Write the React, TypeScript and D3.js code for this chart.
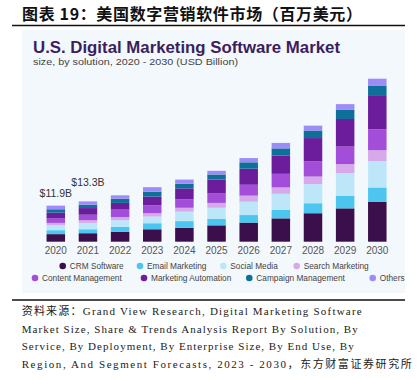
import React from "react";
import * as d3 from "d3";

const years = ["2020","2021","2022","2023","2024","2025","2026","2027","2028","2029","2030"];
const seriesNames = ["CRM Software","Email Marketing","Social Media","Search Marketing","Content Management","Marketing Automation","Campaign Management","Others"];
const crm = [2.5, 2.8, 3.3, 4.1, 4.6, 5.4, 6.3, 7.7, 9.4, 11.0, 13.2];
const email = [1.3, 1.3, 1.6, 2.0, 2.2, 2.1, 2.5, 2.8, 3.3, 4.1, 4.7];
const social = [1.6, 2.1, 2.2, 2.2, 3.1, 3.7, 4.4, 5.3, 6.3, 7.5, 8.7];
const search = [0.8, 0.9, 1.0, 1.1, 1.3, 1.6, 2.0, 2.1, 2.5, 3.0, 3.6];
const content = [1.6, 1.8, 2.5, 2.6, 2.8, 3.1, 3.6, 4.5, 5.0, 5.8, 6.9];
const automation = [1.8, 2.2, 2.2, 2.9, 3.6, 4.6, 5.3, 6.0, 7.7, 9.1, 11.0];
const campaign = [1.1, 1.1, 1.4, 1.6, 1.5, 1.7, 2.1, 2.4, 2.5, 3.0, 3.3];
const others = [1.2, 1.1, 1.1, 1.5, 1.4, 1.2, 1.4, 1.8, 1.6, 1.9, 2.4];
const valueLabels = [{ year: "2020", text: "$11.9B" }, { year: "2021", text: "$13.3B" }];
const colors = ["#3a0f4b", "#4cc6ef", "#bde7f8", "#d8a9ea", "#a24ed8", "#6b1d9b", "#0e6f98", "#9d8cf6"];

const titleCN = "图表 19：美国数字营销软件市场（百万美元）";
const chartTitle = "U.S. Digital Marketing Software Market";
const chartSub = "size, by solution, 2020 - 2030 (USD Billion)";
const footer = [
  "资料来源：Grand View Research, Digital Marketing Software",
  "Market Size, Share & Trends Analysis Report By Solution, By",
  "Service, By Deployment, By Enterprise Size, By End Use, By",
  "Region, And Segment Forecasts, 2023 - 2030，东方财富证券研究所",
];

// layout
const W = 417, H = 380;
const footerWidths = [340, 336, 332, 390];
const legendRows = [
  { y: 269, items: [0, 1, 2, 3], xs: [62.7, 140, 223.3, 296.7] },
  { y: 281, items: [4, 5, 6, 7], xs: [35, 144, 249.3, 372.7] },
];

export default function App() {
  const allSeries = [crm, email, social, search, content, automation, campaign, others];
  const rows = years.map((y, i) => {
    const r: any = { year: y };
    seriesNames.forEach((s, k) => (r[s] = allSeries[k][i]));
    return r;
  });
  const stacked = d3.stack().keys(seriesNames)(rows as any);
  const x = d3.scalePoint().domain(years).range([55.8, 377.3]);
  const y = d3.scaleLinear().domain([0, 54]).range([241.7, 241.7 - 54 * 3.03]);
  const bw = 18.5;
  const totals = rows.map((r) => seriesNames.reduce((a, s) => a + r[s], 0));
  const labelOffsets = [8.5, 15];

  return (
    <svg width={W} height={H} style={{ position: "absolute", left: 0, top: 0, background: "#fff" }}>
      <text x={22} y={20} fontFamily="'Noto Sans CJK SC'" fontWeight={700} fontSize={16} fill="#111" textLength={340} lengthAdjust="spacing">{titleCN}</text>
      <line x1={12} x2={405} y1={25.5} y2={25.5} stroke="#111" strokeWidth={1.3} />
      <rect x={22} y={30} width={383} height={263} fill="#f3f8fc" />
      <text x={33} y={53} fontFamily="'Liberation Sans', Arial" fontWeight={700} fontSize={16.8} fill="#3b1f5c" textLength={307} lengthAdjust="spacingAndGlyphs">{chartTitle}</text>
      <text x={33} y={64.5} fontFamily="'Liberation Sans', Arial" fontSize={9.5} fill="#444" textLength={205} lengthAdjust="spacingAndGlyphs">{chartSub}</text>
      {stacked.map((layer, k) => (
        <g key={k} fill={colors[k]}>
          {layer.map((d: any, i: number) => (
            <rect key={i} x={(x(years[i]) as number) - bw / 2} y={y(d[1])} width={bw} height={y(d[0]) - y(d[1])} />
          ))}
        </g>
      ))}
      {years.map((yr) => (
        <text key={yr} x={x(yr)} y={253.5} textAnchor="middle" fontFamily="'Liberation Sans', Arial" fontSize={10} fill="#555">{yr}</text>
      ))}
      {valueLabels.map((v, i) => {
        const idx = years.indexOf(v.year);
        return (
          <text key={v.year} x={x(v.year)} y={y(totals[idx]) - labelOffsets[i]} textAnchor="middle" fontFamily="'Liberation Sans', Arial" fontSize={10.5} fill="#333">{v.text}</text>
        );
      })}
      {legendRows.map((row, ri) => (
        <g key={ri}>
          {row.items.map((k, j) => (
            <g key={k}>
              <circle cx={row.xs[j]} cy={row.y - 3} r={3.3} fill={colors[k]} />
              <text x={row.xs[j] + 7} y={row.y} fontFamily="'Liberation Sans', Arial" fontSize={8.3} fill="#444">{seriesNames[k]}</text>
            </g>
          ))}
        </g>
      ))}
      <line x1={12} x2={405} y1={300} y2={300} stroke="#111" strokeWidth={1.3} />
      {footer.map((t, i) => (
        <text key={i} x={21.7} y={315 + i * 17.6} fontFamily="'Liberation Serif', 'Noto Sans CJK SC'" fontSize={11} fill="#222" textLength={footerWidths[i]} lengthAdjust="spacing">{t}</text>
      ))}
    </svg>
  );
}
